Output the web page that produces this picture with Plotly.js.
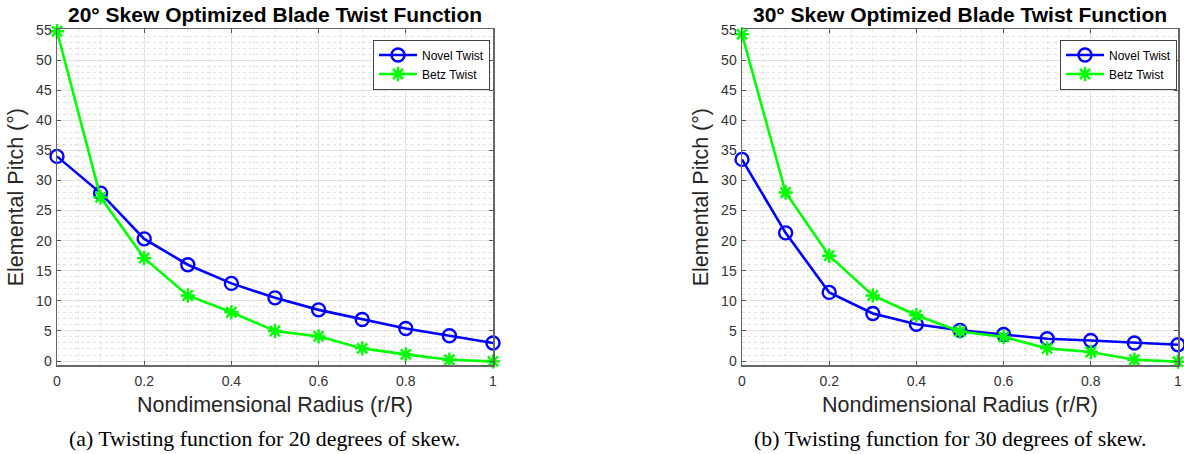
<!DOCTYPE html>
<html>
<head>
<meta charset="utf-8">
<script src="https://cdn.plot.ly/plotly-3.0.1.min.js"></script>
<style>html,body{margin:0;padding:0;background:#fff;}#chart{width:1184px;height:454px;}</style>
</head>
<body>
<div id="chart"></div>
<script>
// Data
const radius = [0, 0.1, 0.2, 0.3, 0.4, 0.5, 0.6, 0.7, 0.8, 0.9, 1.0];
const novel20 = [34.0, 27.9, 20.3, 16.0, 12.9, 10.5, 8.5, 6.9, 5.4, 4.2, 3.0];
const betz20  = [54.8, 27.2, 17.1, 10.9, 8.1, 5.0, 4.1, 2.1, 1.1, 0.2, -0.05];
const novel30 = [33.5, 21.3, 11.4, 7.9, 6.1, 5.1, 4.4, 3.7, 3.4, 3.0, 2.7];
const betz30  = [54.3, 28.0, 17.5, 10.9, 7.6, 4.9, 4.0, 2.1, 1.5, 0.2, -0.1];
const seriesNames = ['Novel Twist', 'Betz Twist'];
const plotTitles = ['20° Skew Optimized Blade Twist Function', '30° Skew Optimized Blade Twist Function'];
const captions = ['(a) Twisting function for 20 degrees of skew.', '(b) Twisting function for 30 degrees of skew.'];
const xTitle = 'Nondimensional Radius (r/R)';
const yTitle = 'Elemental Pitch (°)';

const W = 1184, H = 454;
const blue = '#0000ff', green = '#00ff00';
const sans = 'Liberation Sans, Arial, Helvetica, sans-serif';
const serif = 'Liberation Serif, Times New Roman, serif';

function novelTrace(y, xa, ya, lg) {
  return {x: radius, y: y, xaxis: xa, yaxis: ya, name: seriesNames[0], legend: lg,
    mode: 'lines+markers', line: {color: blue, width: 2.6},
    marker: {symbol: 'circle-open', size: 13, color: blue, line: {width: 2.4, color: blue}}, cliponaxis: false};
}
function betzTrace(y, xa, ya, lg) {
  return {x: radius, y: y, xaxis: xa, yaxis: ya, name: seriesNames[1], legend: lg,
    mode: 'lines+markers', line: {color: green, width: 2.6},
    marker: {symbol: 'asterisk-open', size: 12, color: green, line: {width: 2.4, color: green}}, cliponaxis: false};
}

const traces = [
  novelTrace(novel20, 'x', 'y', 'legend'),
  betzTrace(betz20, 'x', 'y', 'legend'),
  novelTrace(novel30, 'x2', 'y2', 'legend2'),
  betzTrace(betz30, 'x2', 'y2', 'legend2')
];

const left1 = 57, right1 = 493, left2 = 742, right2 = 1178;
const plotTop = 29.3, plotBottom = 365;
const yDom = [1 - plotBottom / H, 1 - plotTop / H];

function xaxisCfg(l, r, anchor) {
  return {
    domain: [l / W, r / W], anchor: anchor, range: [0, 1],
    tickvals: [0, 0.2, 0.4, 0.6, 0.8, 1], ticktext: ['0', '0.2', '0.4', '0.6', '0.8', '1'],
    ticks: 'inside', ticklen: 4, tickcolor: '#555', showline: true, linecolor: '#666', linewidth: 1.5, mirror: 'ticks',
    showgrid: true, gridcolor: '#e2e2e2', gridwidth: 1, zeroline: false,
    minor: {dtick: 0.05, showgrid: true, gridcolor: '#e2e2e2', griddash: 'dot', gridwidth: 1},
    tickfont: {family: sans, size: 14, color: '#333'}, ticklabelstandoff: 3,
    title: {text: xTitle, font: {family: sans, size: 21.5, color: '#262626'}, standoff: 8}
  };
}
function yaxisCfg(anchor) {
  return {
    domain: yDom, anchor: anchor, range: [-0.66, 55.12],
    tickvals: [0, 5, 10, 15, 20, 25, 30, 35, 40, 45, 50, 55],
    ticks: 'inside', ticklen: 4, tickcolor: '#555', showline: true, linecolor: '#666', linewidth: 1.5, mirror: 'ticks',
    showgrid: true, gridcolor: '#e2e2e2', gridwidth: 1, zeroline: false,
    minor: {dtick: 1, showgrid: true, gridcolor: '#e2e2e2', griddash: 'dot', gridwidth: 1},
    tickfont: {family: sans, size: 14, color: '#333'}, ticklabelstandoff: 1,
    title: {text: yTitle, font: {family: sans, size: 21.5, color: '#262626'}, standoff: 6}
  };
}

function legendCfg(rightPx) {
  return {x: rightPx / W, y: 1 - 39.5 / H, xanchor: 'right', yanchor: 'top',
    bgcolor: '#ffffff', bordercolor: '#444', borderwidth: 1,
    font: {family: sans, size: 12, color: '#000'}, tracegroupgap: 0, itemwidth: 38};
}

const layout = {
  width: W, height: H, margin: {l: 0, r: 0, t: 0, b: 0},
  paper_bgcolor: '#fff', plot_bgcolor: '#fff', showlegend: true,
  xaxis: xaxisCfg(left1, right1, 'y'),
  yaxis: yaxisCfg('x'),
  xaxis2: xaxisCfg(left2, right2, 'y2'),
  yaxis2: yaxisCfg('x2'),
  legend: legendCfg(490),
  legend2: legendCfg(1177),
  annotations: [
    {text: '<b>' + plotTitles[0] + '</b>', x: (left1 + right1) / 2 / W, y: 1 - 14 / H, xref: 'paper', yref: 'paper',
      xanchor: 'center', yanchor: 'middle', showarrow: false, font: {family: sans, size: 21, color: '#000'}},
    {text: '<b>' + plotTitles[1] + '</b>', x: (left2 + right2) / 2 / W, y: 1 - 14 / H, xref: 'paper', yref: 'paper',
      xanchor: 'center', yanchor: 'middle', showarrow: false, font: {family: sans, size: 21, color: '#000'}},
    {text: captions[0], x: 264 / W, y: 1 - 439 / H, xref: 'paper', yref: 'paper',
      xanchor: 'center', yanchor: 'middle', showarrow: false, font: {family: serif, size: 21.8, color: '#000'}},
    {text: captions[1], x: 950 / W, y: 1 - 439 / H, xref: 'paper', yref: 'paper',
      xanchor: 'center', yanchor: 'middle', showarrow: false, font: {family: serif, size: 21.8, color: '#000'}}
  ]
};

Plotly.newPlot('chart', traces, layout, {displayModeBar: false, staticPlot: true});
</script>
</body>
</html>
